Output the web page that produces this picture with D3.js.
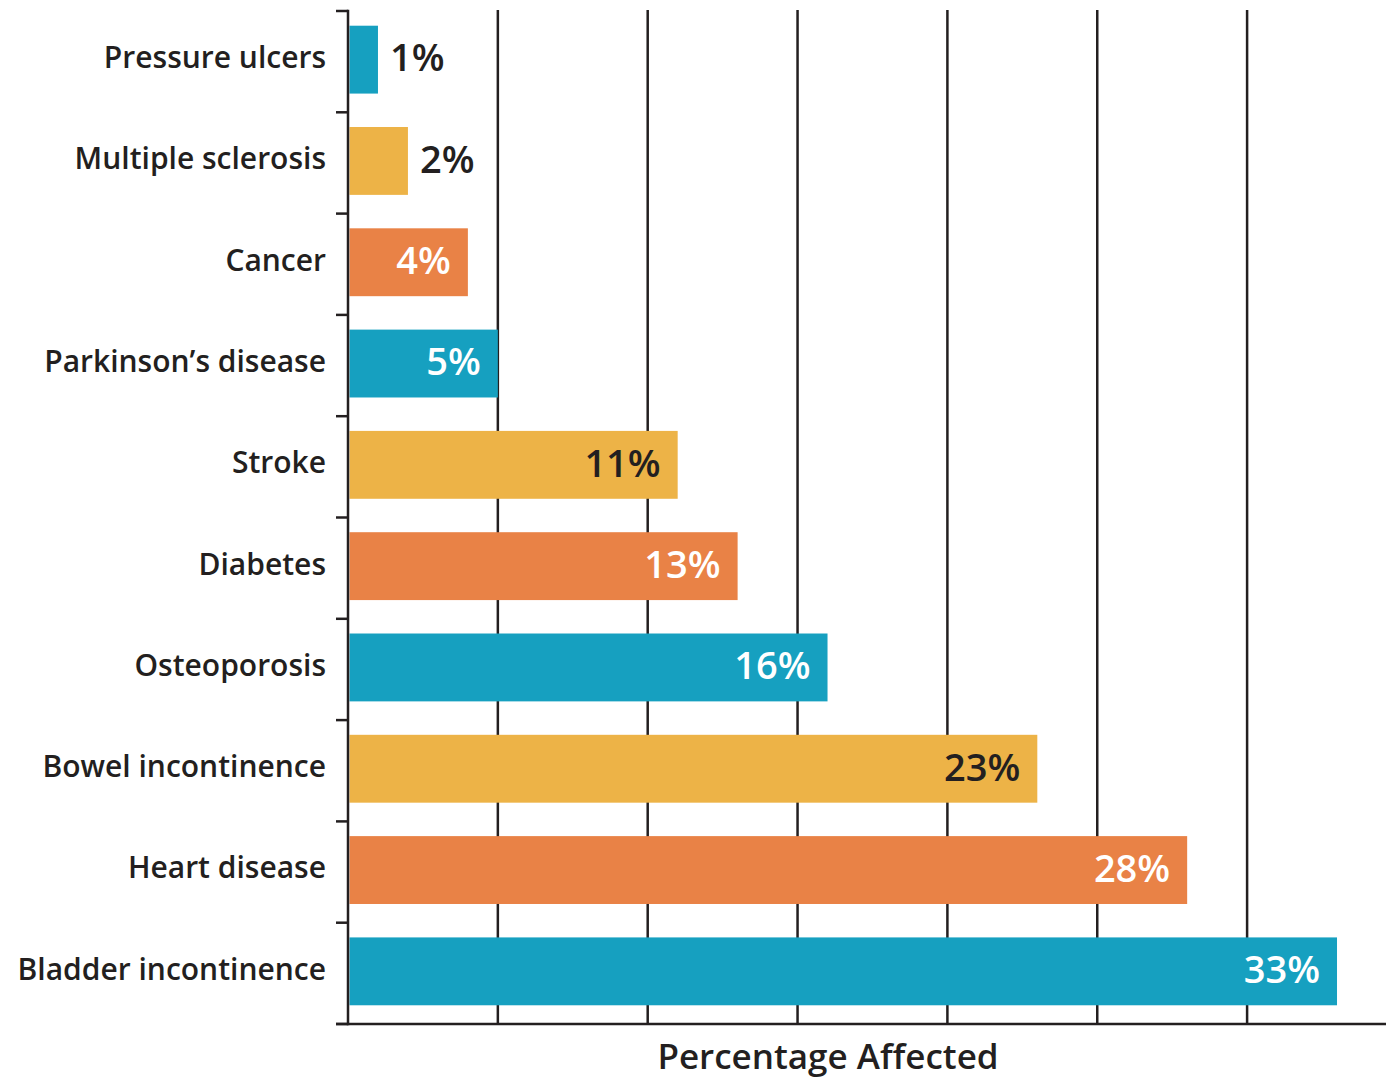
<!DOCTYPE html>
<html>
<head>
<meta charset="utf-8">
<script src="https://cdn.jsdelivr.net/npm/d3@7"></script>
<style>
  html, body { margin: 0; padding: 0; background: #fff; }
  svg { display: block; }
  text { font-family: "Open Sans", "Noto Sans", sans-serif; }
</style>
</head>
<body>
<svg id="chart" width="1386" height="1080"></svg>
<script>
// Conditions, top to bottom, with the share of people affected (%)
const conditions = [
  "Pressure ulcers", "Multiple sclerosis", "Cancer", "Parkinson\u2019s disease",
  "Stroke", "Diabetes", "Osteoporosis", "Bowel incontinence",
  "Heart disease", "Bladder incontinence"
];
const percentAffected = [1, 2, 4, 5, 11, 13, 16, 23, 28, 33];
const gridTicks = [5, 10, 15, 20, 25, 30];
const axisTitle = "Percentage Affected";

const palette = ["#16a0c0", "#edb347", "#e98246"];
const ink = "#231f20";

const svg = d3.select("#chart");
const margin = { left: 348, top: 11, bottom: 1024 };

const x = d3.scaleLinear().domain([0, 35]).range([margin.left, margin.left + 35 * 29.97]);
const y = d3.scaleBand().domain(conditions)
  .range([margin.top, margin.bottom])
  .paddingInner(0.33).paddingOuter(0.165).align(0.44);

// vertical gridlines
svg.append("g")
  .selectAll("line")
  .data(gridTicks)
  .join("line")
  .attr("x1", d => x(d)).attr("x2", d => x(d))
  .attr("y1", margin.top - 1).attr("y2", margin.bottom)
  .attr("stroke", ink).attr("stroke-width", 2.5);

// bars
const colorOf = i => palette[i % 3];
svg.append("g")
  .selectAll("rect")
  .data(conditions)
  .join("rect")
  .attr("x", x(0) + 1.5)
  .attr("y", d => y(d))
  .attr("height", y.bandwidth())
  .attr("width", (d, i) => x(percentAffected[i]) - x(0) - 1.5)
  .attr("fill", (d, i) => colorOf(i));

// y axis: line with ticks at the row boundaries
const rowEdges = d3.range(conditions.length + 1)
  .map(i => margin.top + i * (margin.bottom - margin.top) / conditions.length);
const yAxis = svg.append("g").attr("stroke", ink).attr("stroke-width", 2.5);
yAxis.append("line")
  .attr("x1", x(0)).attr("x2", x(0))
  .attr("y1", margin.top - 1.25).attr("y2", margin.bottom + 1.25);
yAxis.selectAll("line.tick")
  .data(rowEdges)
  .join("line")
  .attr("class", "tick")
  .attr("x1", x(0) - 12).attr("x2", x(0))
  .attr("y1", d => d).attr("y2", d => d);

// x axis baseline
svg.append("line")
  .attr("x1", x(0) - 12).attr("x2", 1386)
  .attr("y1", margin.bottom).attr("y2", margin.bottom)
  .attr("stroke", ink).attr("stroke-width", 2.5);

// category labels
svg.append("g")
  .selectAll("text")
  .data(conditions)
  .join("text")
  .attr("x", x(0) - 22)
  .attr("y", d => y(d) + y.bandwidth() / 2)
  .attr("dy", "0.28em")
  .attr("text-anchor", "end")
  .attr("font-size", 30)
  .attr("font-weight", 600)
  .attr("fill", ink)
  .text(d => d);

// value labels: outside short bars, inside otherwise
svg.append("g")
  .selectAll("text")
  .data(conditions)
  .join("text")
  .each(function (d, i) {
    const v = percentAffected[i];
    const outside = v < 3;
    const t = d3.select(this)
      .attr("y", y(d) + y.bandwidth() / 2)
      .attr("dy", "0.31em")
      .attr("font-size", 38)
      .attr("font-weight", 600)
      .text(v + "%");
    if (outside) {
      t.attr("x", x(v) + 12).attr("text-anchor", "start").attr("fill", ink);
    } else {
      t.attr("x", x(v) - 17).attr("text-anchor", "end")
        .attr("fill", i % 3 === 1 ? ink : "#ffffff");
    }
  });

// axis title
svg.append("text")
  .attr("x", 828)
  .attr("y", 1069)
  .attr("text-anchor", "middle")
  .attr("font-size", 35)
  .attr("font-weight", 600)
  .attr("fill", ink)
  .text(axisTitle);
</script>
</body>
</html>
